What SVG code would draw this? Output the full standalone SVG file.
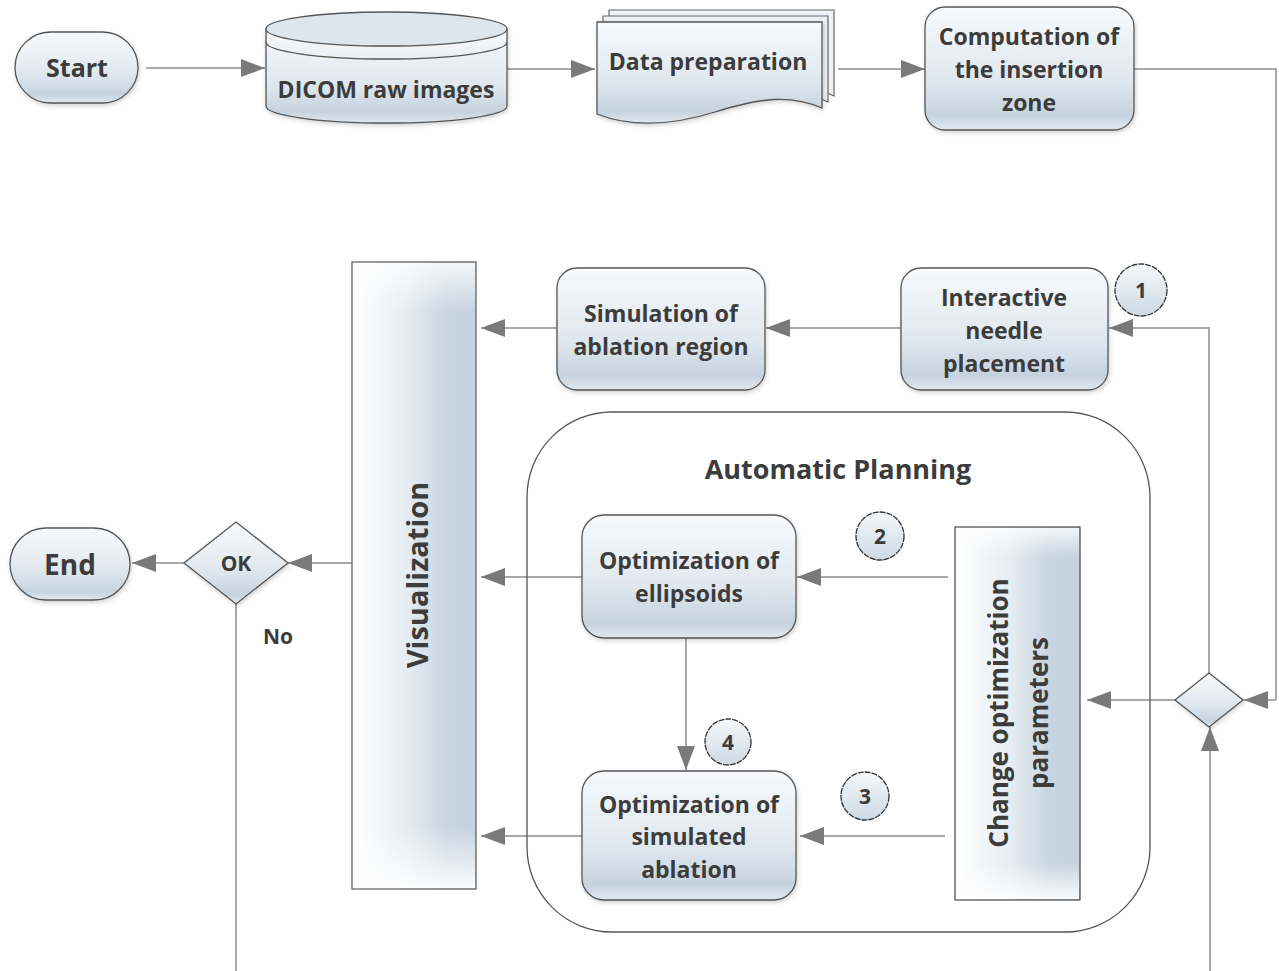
<svg xmlns="http://www.w3.org/2000/svg" width="1279" height="971" viewBox="0 0 1279 971">
<defs>
<style>
.t{font-family:"Open Sans","Noto Sans","DejaVu Sans",sans-serif;font-weight:700;fill:#3c3c3c;text-anchor:middle;font-size:23px}
.n{fill:url(#ng);stroke:#555;stroke-width:1.3;filter:url(#sh)}
.c{fill:none;stroke:#a8a8a8;stroke-width:2}
.ca{fill:none;stroke:#a8a8a8;stroke-width:2;marker-end:url(#ah)}
.num{fill:url(#cg);stroke:#333;stroke-width:1.3;stroke-dasharray:6 1}
</style>
<linearGradient id="ng" x1="0" y1="0" x2="0" y2="1">
<stop offset="0" stop-color="#f8fafc"/>
<stop offset="0.6" stop-color="#dfe7ee"/>
<stop offset="0.88" stop-color="#c5d3de"/>
<stop offset="1" stop-color="#e2e9ef"/>
</linearGradient>
<linearGradient id="cg" x1="0" y1="0" x2="0" y2="1">
<stop offset="0" stop-color="#f6f8fa"/>
<stop offset="1" stop-color="#cdd9e3"/>
</linearGradient>
<linearGradient id="vg" x1="0" y1="0" x2="1" y2="0">
<stop offset="0" stop-color="#ffffff"/>
<stop offset="0.45" stop-color="#e6ecf1"/>
<stop offset="0.75" stop-color="#c8d6e1"/>
<stop offset="1" stop-color="#c3d2de"/>
</linearGradient>
<linearGradient id="vfade" x1="0" y1="0" x2="0" y2="1">
<stop offset="0" stop-color="#ffffff" stop-opacity="0.8"/>
<stop offset="0.08" stop-color="#ffffff" stop-opacity="0"/>
<stop offset="0.9" stop-color="#ffffff" stop-opacity="0"/>
<stop offset="1" stop-color="#ffffff" stop-opacity="0.9"/>
</linearGradient>
<filter id="sh" x="-10%" y="-10%" width="130%" height="130%">
<feDropShadow dx="1" dy="2" stdDeviation="2" flood-color="#000" flood-opacity="0.18"/>
</filter>
<marker id="ah" viewBox="0 0 24 18" refX="24" refY="9" markerWidth="24" markerHeight="18" markerUnits="userSpaceOnUse" orient="auto">
<path d="M0,0 L24,9 L0,18 Z" fill="#7a7a7a"/>
</marker>
</defs>
<rect width="1279" height="971" fill="#ffffff"/>

<g id="connectors">
<path class="ca" d="M146,68 H265"/>
<path class="ca" d="M507,69 H595"/>
<path class="ca" d="M838,69 H925"/>
<path class="c" d="M1134,69 H1276 V700"/>
<path class="ca" d="M1276,700 H1244"/>
<path class="ca" d="M1209,673 V328 H1109"/>
<path class="ca" d="M1175,700 H1087"/>
<path class="ca" d="M1210,971 V727"/>
<path class="ca" d="M901,328 H766"/>
<path class="ca" d="M557,328 H481"/>
<path class="ca" d="M948,577 H797"/>
<path class="ca" d="M582,577 H481"/>
<path class="ca" d="M686,638 V770"/>
<path class="ca" d="M945,836 H800"/>
<path class="ca" d="M582,836 H481"/>
<path class="ca" d="M352,563 H288"/>
<path class="ca" d="M184,563 H132"/>
<path class="c" d="M236,603 V971"/>
</g>

<g id="merge">
<path class="n" d="M1209,673 L1243,700 L1209,727 L1175,700 Z"/>
</g>

<g id="start">
<rect class="n" x="15" y="32" width="123" height="71" rx="35.5"/>
<text class="t" x="77" y="77" style="font-size:25px">Start</text>
</g>

<g id="dicom">
<path class="n" d="M266,29 V106 A120.5,17 0 0 0 507,106 V29 Z"/>
<ellipse cx="386.5" cy="29" rx="120.5" ry="17" fill="#dde6ed" stroke="#555" stroke-width="1.3"/>
<path d="M266,42 A120.5,17 0 0 0 507,42" fill="none" stroke="#555" stroke-width="1.3"/>
<text class="t" x="386" y="98">DICOM raw images</text>
</g>

<g id="data-prep">
<path d="M609,10 H834 V96 C805,82 780,86 750,98 L609,98 Z" fill="#eef2f6" stroke="#666" stroke-width="1.2"/>
<path d="M603,16 H828 V102 C799,88 774,92 744,104 L603,104 Z" fill="#eef2f6" stroke="#666" stroke-width="1.2"/>
<path class="n" d="M597,22 H822 V108 C790,94 760,98 715,112 C670,126 630,127 597,114 Z"/>
<text class="t" x="708" y="70">Data preparation</text>
</g>

<g id="computation">
<rect class="n" x="925" y="7" width="209" height="123" rx="20"/>
<text class="t" x="1029" y="45">Computation of</text>
<text class="t" x="1029" y="78">the insertion</text>
<text class="t" x="1029" y="111">zone</text>
</g>

<g id="interactive">
<rect class="n" x="901" y="268" width="207" height="122" rx="20"/>
<text class="t" x="1004" y="306">Interactive</text>
<text class="t" x="1004" y="339">needle</text>
<text class="t" x="1004" y="372">placement</text>
</g>

<g id="badge-1">
<circle class="num" cx="1141" cy="290" r="26"/>
<text class="t" x="1141" y="298" style="font-size:21px">1</text>
</g>

<g id="simulation">
<rect class="n" x="557" y="268" width="208" height="122" rx="20"/>
<text class="t" x="661" y="322">Simulation of</text>
<text class="t" x="661" y="355">ablation region</text>
</g>

<g id="visualization">
<rect x="352" y="262" width="124" height="627" fill="url(#vg)" stroke="#666" stroke-width="1.3"/>
<rect x="353" y="263" width="122" height="625" fill="url(#vfade)"/>
<text class="t" transform="translate(428,575) rotate(-90)" style="font-size:29px">Visualization</text>
</g>

<g id="ok">
<path class="n" d="M236,522 L288,563 L236,604 L184,563 Z"/>
<text class="t" x="236" y="571" style="font-size:21px">OK</text>
</g>

<g id="end">
<rect class="n" x="10" y="528" width="120" height="72" rx="36"/>
<text class="t" x="70" y="575" style="font-size:28px">End</text>
</g>

<text class="t" x="278" y="644" style="font-size:21px">No</text>

<g id="automatic-planning">
<rect x="527" y="412" width="623" height="520" rx="85" fill="none" stroke="#555" stroke-width="1.3"/>
<text class="t" x="838" y="479" style="font-size:27px">Automatic Planning</text>
</g>

<g id="opt-ellipsoids">
<rect class="n" x="582" y="515" width="214" height="123" rx="22"/>
<text class="t" x="689" y="569">Optimization of</text>
<text class="t" x="689" y="602">ellipsoids</text>
</g>

<g id="badge-2">
<circle class="num" cx="880" cy="536" r="24"/>
<text class="t" x="880" y="544" style="font-size:21px">2</text>
</g>

<g id="badge-4">
<circle class="num" cx="728" cy="742" r="23"/>
<text class="t" x="728" y="750" style="font-size:21px">4</text>
</g>

<g id="opt-simulated">
<rect class="n" x="582" y="771" width="214" height="129" rx="22"/>
<text class="t" x="689" y="813">Optimization of</text>
<text class="t" x="689" y="845">simulated</text>
<text class="t" x="689" y="878">ablation</text>
</g>

<g id="badge-3">
<circle class="num" cx="865" cy="796" r="24"/>
<text class="t" x="865" y="804" style="font-size:21px">3</text>
</g>

<g id="change-params">
<rect x="955" y="527" width="125" height="373" fill="url(#vg)" stroke="#555" stroke-width="1.3"/>
<rect x="956" y="528" width="123" height="371" fill="url(#vfade)"/>
<text class="t" transform="translate(1008,713) rotate(-90)" style="font-size:26px">Change optimization</text>
<text class="t" transform="translate(1048,713) rotate(-90)" style="font-size:26px">parameters</text>
</g>
</svg>
